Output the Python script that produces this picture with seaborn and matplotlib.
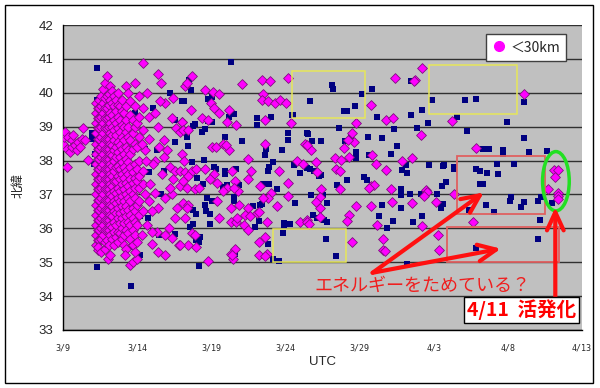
import pandas as pd
import seaborn as sns
import matplotlib.pyplot as plt
import matplotlib.dates as mdates
from matplotlib.patches import Rectangle, Ellipse
from matplotlib.lines import Line2D

start = pd.Timestamp('2011-03-09')
x_ticks = pd.date_range('2011-03-09', '2011-04-13', freq='5D')
y_ticks = list(range(33, 43))
legend_label = '＜30km'
note_text = 'エネルギーをためている？'
label_text = '4/11  活発化'

# (days after 3/9 00:00 UTC, latitude)  -- depth < 30 km
shallow_pts = [
    (0.02, 38.5), (0.05, 38.7), (0.14, 38.85), (0.25, 38.35), (0.25, 37.8), (0.36, 38.7),
    (0.47, 38.25), (0.59, 38.6), (0.6, 38.4), (0.7, 38.75), (0.81, 38.45), (0.92, 38.3),
    (1.04, 38.55), (1.15, 38.4), (1.26, 38.65), (1.37, 38.95), (1.49, 38.6), (1.71, 38.03),
    # main shock strip
    (2.2, 39.7), (2.2, 39.4), (2.2, 39.1), (2.2, 38.8), (2.2, 38.5), (2.2, 38.2), (2.2, 37.9),
    (2.2, 37.6), (2.2, 37.3), (2.2, 37.0), (2.2, 36.7), (2.2, 36.4), (2.2, 36.1), (2.2, 35.8),
    (2.2, 35.5),
    (2.33, 39.55), (2.33, 39.25), (2.33, 38.95), (2.33, 38.65), (2.33, 38.35), (2.33, 38.05),
    (2.33, 37.75), (2.33, 37.45), (2.33, 37.15), (2.33, 36.85), (2.33, 36.55), (2.33, 36.25),
    (2.33, 35.95), (2.33, 35.65), (2.33, 35.35),
    (2.45, 39.8), (2.45, 39.55), (2.45, 39.25), (2.45, 38.95), (2.45, 38.65), (2.45, 38.35),
    (2.45, 38.05), (2.45, 37.75), (2.45, 37.45), (2.45, 37.15), (2.45, 36.85), (2.45, 36.55),
    (2.45, 36.25), (2.45, 35.95), (2.45, 35.65), (2.39, 35.45),
    (2.58, 39.9), (2.58, 39.6), (2.58, 39.3), (2.58, 39.0), (2.58, 38.7), (2.58, 38.4),
    (2.58, 38.1), (2.58, 37.8), (2.58, 37.5), (2.58, 37.2), (2.58, 36.9), (2.58, 36.6),
    (2.58, 36.3), (2.58, 36.0), (2.58, 35.7), (2.58, 35.3),
    (2.7, 40.1), (2.7, 39.7), (2.7, 39.4), (2.7, 39.1), (2.7, 38.8), (2.7, 38.5), (2.7, 38.2),
    (2.7, 37.9), (2.7, 37.6), (2.7, 37.3), (2.7, 37.0), (2.7, 36.7), (2.7, 36.4), (2.7, 36.1),
    (2.7, 35.8), (2.84, 35.4),
    (2.83, 40.3), (2.83, 39.85), (2.83, 39.55), (2.83, 39.25), (2.83, 38.95), (2.83, 38.65),
    (2.83, 38.35), (2.83, 38.05), (2.83, 37.75), (2.83, 37.45), (2.83, 37.15), (2.83, 36.85),
    (2.83, 36.55), (2.83, 36.25), (2.83, 35.95), (2.83, 35.6),
    (2.95, 40.5), (2.95, 39.9), (2.95, 39.55), (2.95, 39.25), (2.95, 38.95), (2.95, 38.65),
    (2.95, 38.35), (2.95, 38.05), (2.95, 37.75), (2.95, 37.45), (2.95, 37.15), (2.95, 36.85),
    (2.95, 36.55), (2.95, 36.25), (2.95, 35.95), (2.95, 35.65), (3.06, 35.1), (3.18, 35.2),
    (3.08, 39.95), (3.08, 39.65), (3.08, 39.3), (3.08, 39.0), (3.08, 38.65), (3.08, 38.35),
    (3.08, 38.05), (3.08, 37.75), (3.08, 37.45), (3.08, 37.15), (3.08, 36.85), (3.08, 36.55),
    (3.08, 36.25), (3.08, 35.95), (3.08, 35.5),
    (3.2, 40.2), (3.2, 39.8), (3.2, 39.4), (3.2, 39.1), (3.2, 38.8), (3.2, 38.5), (3.2, 38.2),
    (3.2, 37.9), (3.2, 37.6), (3.2, 37.3), (3.2, 37.0), (3.2, 36.7), (3.2, 36.4), (3.2, 36.1),
    (3.2, 35.8),
    (3.33, 40.05), (3.33, 39.7), (3.33, 39.35), (3.33, 39.0), (3.33, 38.75), (3.33, 38.45),
    (3.33, 38.15), (3.33, 37.85), (3.33, 37.55), (3.33, 37.25), (3.33, 36.95), (3.33, 36.65),
    (3.33, 36.35), (3.33, 36.05), (3.33, 35.7),
    (3.45, 39.9), (3.45, 39.6), (3.45, 39.2), (3.45, 38.9), (3.45, 38.6), (3.45, 38.3),
    (3.45, 38.0), (3.45, 37.7), (3.45, 37.4), (3.45, 37.1), (3.45, 36.8), (3.45, 36.5),
    (3.45, 36.2), (3.45, 35.9), (3.45, 35.5),
    (3.58, 39.8), (3.58, 39.45), (3.58, 39.1), (3.58, 38.75), (3.58, 38.4), (3.58, 38.1),
    (3.58, 37.8), (3.58, 37.4), (3.58, 37.05), (3.58, 36.75), (3.58, 36.45), (3.58, 36.1),
    (3.58, 35.75),
    (3.7, 40.0), (3.7, 39.65), (3.7, 39.3), (3.7, 38.95), (3.7, 38.55), (3.7, 38.25),
    (3.7, 37.85), (3.7, 37.55), (3.7, 37.2), (3.7, 36.9), (3.7, 36.6), (3.7, 36.3),
    (3.7, 35.9), (3.7, 35.6),
    (3.83, 39.6), (3.83, 39.2), (3.83, 38.85), (3.83, 38.45), (3.83, 38.1), (3.83, 37.75),
    (3.83, 37.45), (3.83, 37.1), (3.83, 36.8), (3.83, 36.45), (3.83, 36.15), (3.83, 35.85),
    (3.95, 39.8), (3.95, 39.45), (3.95, 39.05), (3.95, 38.7), (3.95, 38.35), (3.95, 37.95),
    (3.95, 37.6), (3.95, 37.3), (3.95, 36.95), (3.95, 36.65), (3.95, 36.3), (3.95, 36.0),
    (3.95, 35.7),
    (4.1, 39.4), (4.1, 39.0), (4.1, 38.6), (4.1, 38.2), (4.1, 37.8), (4.1, 37.5),
    (4.1, 37.15), (4.1, 36.8), (4.1, 36.5), (4.1, 36.15), (4.1, 35.8), (4.1, 35.5),
    (4.25, 40.2), (4.25, 39.6), (4.25, 39.2), (4.25, 38.85), (4.25, 38.4), (4.25, 38.05),
    (4.25, 37.7), (4.25, 37.35), (4.25, 37.0), (4.25, 36.65), (4.25, 36.35), (4.25, 35.95),
    (4.25, 35.4), (4.19, 35.2), (4.53, 34.92), (4.75, 35.0), (4.98, 35.1),
    (4.4, 40.0), (4.4, 39.0), (4.4, 38.7), (4.4, 38.3), (4.4, 37.95), (4.4, 37.6),
    (4.4, 37.25), (4.4, 36.9), (4.4, 36.55), (4.4, 36.2), (4.4, 35.85),
    (4.55, 39.75), (4.55, 39.35), (4.55, 38.6), (4.55, 38.2), (4.55, 37.8), (4.55, 37.45),
    (4.55, 37.1), (4.55, 36.8), (4.55, 36.4), (4.55, 36.1), (4.55, 35.7),
    (4.7, 39.2), (4.7, 38.8), (4.7, 38.35), (4.7, 37.65), (4.7, 37.35), (4.7, 37.0),
    (4.7, 36.6), (4.7, 36.3), (4.7, 35.95), (4.7, 35.5),
    (4.85, 40.3), (4.85, 39.6), (4.85, 39.0), (4.85, 38.5), (4.85, 37.9), (4.85, 37.5),
    (4.85, 37.2), (4.85, 36.9), (4.85, 36.5), (4.85, 36.2), (4.85, 35.8), (4.85, 35.3),
    (5.0, 39.1), (5.0, 38.4), (5.0, 37.75), (5.0, 37.4), (5.0, 36.7), (5.0, 36.1), (5.0, 35.6),
    (5.15, 39.9), (5.15, 39.3), (5.15, 38.7), (5.15, 38.0), (5.15, 37.55), (5.15, 37.2),
    (5.15, 36.8), (5.15, 36.4),
    (5.4, 40.88), (5.4, 39.55), (5.4, 38.9), (5.4, 37.7), (5.4, 37.3), (5.4, 36.5),
    (5.65, 40.0), (6.4, 40.55), (6.6, 40.3),
    # 3/14 - 3/17
    (6.89, 39.7), (6.55, 39.75), (7.45, 39.85), (7.34, 39.25), (8.02, 39.15), (7.61, 38.95),
    (7.9, 38.85), (6.44, 39.0), (5.77, 38.65), (6.78, 38.6), (5.54, 38.3), (6.22, 38.0),
    (6.78, 38.1), (7.23, 37.8), (7.57, 37.7), (6.67, 37.6), (7.45, 37.45), (7.9, 37.25),
    (6.22, 37.05), (6.89, 36.9), (7.34, 37.0), (5.77, 36.8), (6.44, 36.6), (7.68, 36.6),
    (7.57, 36.3), (5.65, 36.1), (6.33, 35.9), (7.12, 36.0), (6.89, 35.8), (7.34, 35.72),
    (7.79, 35.5), (5.99, 35.55), (6.44, 35.3), (6.89, 35.2), (5.9, 37.3), (6.1, 37.9),
    (5.3, 38.5), (5.6, 38.0), (5.5, 37.0), (6.0, 36.5), (5.8, 39.3), (6.2, 39.4),
    (6.5, 38.4), (7.0, 38.3), (7.2, 37.2), (6.0, 35.9), (5.3, 35.8),
    # 3/17 - 3/26
    (8.7, 40.5), (8.25, 40.2), (8.35, 40.3), (9.6, 40.07), (10.1, 40.03), (10.5, 39.95),
    (10.0, 39.7), (10.15, 39.55), (8.65, 39.5), (9.35, 39.25), (9.75, 39.2), (10.5, 39.4),
    (11.05, 39.15), (11.2, 39.5), (11.7, 39.05), (12.1, 40.27), (13.4, 40.37), (13.95, 40.35),
    (15.2, 40.43), (13.5, 39.95), (13.4, 39.8), (13.85, 39.75), (14.3, 39.7), (14.65, 39.8),
    (15.05, 39.7), (13.65, 39.2), (15.4, 39.1), (8.0, 39.15), (8.1, 38.9), (8.45, 38.9),
    (10.05, 38.4), (10.3, 38.4), (10.8, 38.5), (11.2, 38.3), (11.0, 38.45), (13.6, 38.5),
    (16.3, 38.5), (8.0, 38.2), (8.15, 38.0), (12.5, 38.05), (15.8, 38.0), (16.2, 37.9),
    (7.9, 37.7), (8.25, 37.65), (8.7, 37.7), (9.0, 37.75), (8.45, 37.55), (8.1, 37.4),
    (8.35, 37.2), (8.9, 37.15), (9.15, 37.2), (9.6, 37.75), (10.15, 37.6), (9.9, 37.45),
    (11.4, 37.7), (12.7, 37.7), (14.6, 37.7), (10.4, 37.35), (11.05, 37.2), (10.8, 37.1),
    (11.6, 37.4), (11.8, 37.1), (11.5, 37.2), (12.5, 37.45), (13.3, 37.25), (15.15, 37.35),
    (14.0, 37.05), (13.85, 36.9), (13.5, 36.9), (14.4, 36.65), (15.2, 36.95), (8.1, 36.75),
    (8.45, 36.7), (8.35, 36.6), (10.4, 36.8), (11.3, 36.6), (11.9, 36.7), (12.5, 36.6),
    (12.3, 36.4), (12.6, 36.35), (13.1, 36.45), (13.25, 36.47), (13.75, 36.2), (8.2, 36.3),
    (10.5, 36.3), (11.3, 36.2), (11.7, 36.2), (11.75, 36.3), (12.2, 36.1), (12.5, 35.95),
    (15.95, 36.2), (16.45, 36.25), (8.7, 35.85), (8.9, 35.8), (8.45, 35.5), (9.0, 35.45),
    (13.6, 35.75), (13.2, 35.6), (11.6, 35.4), (11.3, 35.25), (11.45, 35.1), (11.4, 35.2),
    (13.25, 35.2), (13.75, 35.25), (13.65, 35.18), (9.75, 35.05), (7.9, 35.5),
    # 3/26 - 4/4
    (24.23, 40.72), (22.4, 40.43), (23.74, 40.37), (20.74, 39.63), (21.75, 39.2),
    (22.27, 39.25), (19.77, 39.12), (19.46, 38.8), (19.6, 38.55), (24.17, 38.75),
    (18.94, 38.38), (19.23, 38.62), (16.75, 38.32), (16.46, 38.45), (18.33, 38.08),
    (18.78, 38.03), (19.28, 38.1), (20.85, 38.15), (21.08, 37.9), (22.84, 38.0),
    (23.56, 38.08), (17.03, 37.95), (17.14, 37.65), (18.42, 37.75), (18.65, 37.68),
    (21.76, 37.72), (18.7, 37.15), (17.43, 37.15), (20.74, 37.25), (20.97, 37.28),
    (20.63, 37.2), (22.1, 37.17), (24.46, 37.12), (24.57, 37.08), (24.35, 36.95),
    (17.36, 36.92), (17.07, 36.78), (17.36, 36.6), (19.77, 36.65), (20.79, 36.65),
    (22.16, 36.78), (23.51, 36.75), (25.13, 36.78), (19.28, 36.38), (19.17, 36.23),
    (17.36, 36.32), (16.46, 36.2), (16.62, 36.12), (21.19, 36.1), (24.23, 36.07),
    (19.5, 35.6), (21.6, 35.7), (21.6, 35.37), (21.7, 35.32), (25.3, 35.8), (25.35, 35.35),
    (23.7, 40.34),
    # 4/4 - 4/12
    (31.1, 39.97), (26.26, 39.17), (27.88, 38.38), (26.37, 37.02), (27.65, 36.2),
    (33.13, 37.72), (33.4, 37.72), (33.2, 37.52), (32.72, 37.15), (33.4, 37.05),
    (33.35, 36.95), (33.4, 36.87),
]

# all other events (drawn underneath)
deep_pts = [
    (2.27, 40.72), (2.88, 40.22), (2.27, 39.8), (2.95, 39.7), (7.23, 40.0), (8.0, 39.75),
    (6.04, 39.55), (3.4, 39.25), (1.94, 38.8), (1.98, 38.65), (2.27, 38.65), (3.06, 38.35),
    (5.54, 38.35), (6.33, 38.32), (7.57, 38.55), (7.57, 39.2), (5.77, 37.65), (6.78, 37.7),
    (4.98, 37.65), (3.1, 37.3), (5.09, 37.22), (6.62, 37.0), (4.64, 36.6), (5.2, 36.35),
    (5.72, 36.3), (7.57, 35.82), (6.49, 35.8), (4.64, 35.45), (5.2, 35.22), (2.27, 34.87),
    (4.6, 34.3), (2.84, 36.8), (2.6, 36.0), (2.1, 37.9), (2.15, 38.2), (8.47, 40.37),
    (11.17, 39.29), (4.86, 39.4), (2.3, 38.3), (2.5, 37.2), (3.6, 36.2), (4.1, 37.8),
    (3.9, 38.9), (4.4, 38.6), (4.0, 36.9), (4.8, 36.0), (3.3, 35.6),
    (11.3, 40.92), (8.65, 40.08), (8.13, 39.75), (9.8, 39.82), (9.9, 39.72), (10.05, 39.88),
    (11.5, 39.38), (13.1, 39.25), (14.0, 39.28), (15.45, 39.35), (15.5, 39.33), (9.8, 39.17),
    (10.05, 39.15), (8.9, 39.08), (8.8, 39.02), (13.1, 39.05), (9.35, 38.85), (9.6, 38.92),
    (8.35, 38.7), (10.95, 38.7), (12.07, 38.58), (15.2, 38.8), (15.15, 38.6), (16.5, 38.78),
    (13.7, 38.35), (13.65, 38.15), (8.4, 38.42), (14.77, 38.32), (9.48, 38.02), (8.7, 37.95),
    (10.15, 37.82), (10.33, 37.75), (10.94, 37.7), (10.94, 37.6), (11.68, 37.75),
    (14.16, 37.95), (13.87, 37.82), (13.8, 37.7), (15.56, 37.87), (15.96, 37.62),
    (9.03, 37.5), (9.43, 37.32), (11.05, 37.27), (10.78, 37.22), (11.84, 37.28),
    (13.5, 37.32), (13.87, 37.32), (14.43, 37.15), (9.7, 36.9), (10.04, 36.82),
    (9.6, 36.68), (9.66, 36.5), (11.5, 36.92), (11.5, 36.82), (12.8, 36.67), (13.3, 36.68),
    (13.45, 36.72), (15.67, 36.75), (8.76, 36.55), (9.0, 36.42), (9.93, 36.42),
    (9.88, 36.12), (13.2, 36.22), (12.97, 36.05), (14.88, 36.15), (14.93, 36.08),
    (15.33, 36.12), (14.84, 35.87), (8.8, 36.12), (8.57, 36.05), (9.25, 35.75), (9.0, 35.65),
    (9.14, 35.6), (13.8, 35.55), (14.16, 35.1), (14.54, 35.05), (9.2, 34.88), (11.6, 35.25),
    (23.5, 40.35), (18.15, 40.22), (18.22, 40.1), (20.85, 40.12), (20.18, 39.95),
    (16.69, 39.75), (24.86, 39.8), (18.94, 39.45), (19.17, 39.45), (19.68, 39.62),
    (24.23, 39.48), (21.15, 39.3), (23.5, 39.35), (24.64, 39.12), (18.6, 38.95),
    (23.85, 38.95), (22.32, 38.92), (16.46, 38.8), (16.8, 38.57), (17.43, 38.58),
    (19.05, 38.57), (19.39, 38.7), (20.58, 38.7), (21.53, 38.67), (22.54, 38.42),
    (19.77, 38.25), (19.77, 38.07), (20.63, 38.15), (22.1, 38.2), (23.11, 37.88),
    (22.88, 37.72), (23.22, 37.62), (24.68, 37.87), (25.6, 37.85), (16.46, 37.78),
    (16.69, 37.75), (16.91, 37.68), (17.25, 37.55), (17.43, 37.58), (18.49, 37.27),
    (19.17, 37.43), (20.29, 37.52), (20.47, 37.42), (16.75, 36.98), (17.54, 36.98),
    (17.81, 36.75), (22.77, 37.17), (22.77, 36.97), (23.38, 37.02), (24.12, 37.0),
    (25.25, 37.02), (21.49, 36.68), (22.77, 36.6), (25.6, 36.72), (25.47, 36.6),
    (16.85, 36.38), (17.14, 36.3), (17.59, 36.25), (17.77, 36.2), (21.3, 36.35),
    (22.25, 36.22), (24.23, 36.35), (23.6, 36.18), (21.87, 36.02), (17.75, 35.68),
    (18.44, 35.18), (23.22, 34.95),
    (27.09, 39.78), (27.83, 39.83), (31.1, 39.72), (26.6, 39.28), (29.93, 39.15),
    (27.23, 38.88), (31.1, 38.67), (28.29, 38.35), (28.74, 38.33), (29.64, 38.3),
    (29.64, 38.2), (31.44, 38.25), (32.63, 38.28), (25.7, 37.88), (26.37, 37.82),
    (26.4, 37.75), (27.83, 37.75), (28.13, 37.68), (28.62, 37.62), (29.34, 37.6),
    (29.3, 37.9), (30.43, 37.9), (25.8, 37.38), (25.58, 37.25), (28.13, 37.32),
    (28.29, 37.32), (25.58, 36.72), (27.38, 36.55), (28.51, 36.68), (29.07, 36.48),
    (30.24, 36.92), (30.15, 36.8), (31.06, 36.78), (30.92, 36.63), (32.05, 36.8),
    (32.23, 36.92), (32.95, 36.75), (32.18, 36.25), (32.0, 35.7), (27.83, 35.42),
]

# hand-drawn marks: (day, lat bottom-left, width in days, height in deg)
yellow_boxes = [(15.47, 39.25, 4.87, 1.39), (24.66, 39.37, 5.94, 1.45), (14.14, 35.0, 4.96, 0.98)]
red_boxes = [(26.6, 36.41, 5.9, 1.72), (25.9, 35.0, 7.57, 1.03)]
green_ring = (33.24, 37.39, 1.8, 1.75)
arrows = [((20.88, 34.69), (28.38, 37.06)), ((20.88, 34.69), (29.53, 35.4)),
          ((33.2, 33.97), (33.2, 36.62))]


def to_frame(pts):
    df = pd.DataFrame(pts, columns=['day', 'lat'])
    df['date'] = start + pd.to_timedelta(df['day'], unit='D')
    return df


def xnum(day):
    return mdates.date2num(start) + day


sns.set_style('white')
plt.rcParams['font.family'] = ['Noto Sans CJK JP', 'DejaVu Sans']

deep = to_frame(deep_pts)
shallow = to_frame(shallow_pts)

fig = plt.figure(figsize=(6, 3.88), dpi=100)
ax = fig.add_axes([0.105, 0.1495, 0.865, 0.786])
ax.set_facecolor('#C0C0C0')

sns.scatterplot(data=deep, x='date', y='lat', marker='s', s=20, color='#000080',
                edgecolor='#000080', linewidth=0, legend=False, ax=ax, zorder=3)
sns.scatterplot(data=shallow, x='date', y='lat', marker='D', s=25, color='#FF00FF',
                edgecolor='#80107F', linewidth=0.6, legend=False, ax=ax, zorder=4)

ax.set_xlim(xnum(0), xnum(35))
ax.set_ylim(33, 42)
ax.set_xticks(x_ticks)
ax.set_xticklabels([f'{d.month}/{d.day}' for d in x_ticks], family='DejaVu Sans Mono', fontsize=6)
ax.set_yticks(y_ticks)
ax.set_yticklabels([str(v) for v in y_ticks], family='Liberation Sans', fontsize=9.5)
ax.tick_params(axis='x', direction='in', length=3, pad=10, color='black')
ax.tick_params(axis='y', direction='out', length=4, pad=3, color='black')
ax.yaxis.grid(True, color='#303030', lw=1)
ax.set_axisbelow(True)
ax.set_xlabel('')
ax.set_ylabel('')
for side in ['top', 'right']:
    ax.spines[side].set_visible(False)
for side in ['left', 'bottom']:
    ax.spines[side].set_color('black')
    ax.spines[side].set_linewidth(1)

for d, y, w, h in yellow_boxes:
    ax.add_patch(Rectangle((xnum(d), y), w, h, fill=False, ec='#E6E65A', lw=1.1, zorder=5))
for d, y, w, h in red_boxes:
    ax.add_patch(Rectangle((xnum(d), y), w, h, fill=False, ec='#E06060', lw=1.3, zorder=5))
d, y, w, h = green_ring
ax.add_patch(Ellipse((xnum(d), y), w, h, fill=False, ec='#22E022', lw=2.5, zorder=6))

for (d0, y0), (d1, y1) in arrows:
    ax.annotate('', xy=(xnum(d1), y1), xytext=(xnum(d0), y0),
                arrowprops=dict(arrowstyle='->,head_length=1.3,head_width=0.6',
                                color='#FF1010', lw=3, shrinkA=0, shrinkB=0), zorder=7)

ax.text(xnum(24.26), 34.3, note_text, color='#F01E1E', fontsize=13,
        ha='center', va='center', zorder=8)
ax.text(xnum(30.95), 33.59, label_text, color='#FF0000', fontsize=14, fontweight='bold',
        ha='center', va='center', zorder=8,
        bbox=dict(boxstyle='square,pad=0.15', fc='white', ec='black', lw=1))

handle = Line2D([], [], marker='o', ls='', markerfacecolor='#FF00FF',
                markeredgecolor='#FF00FF', markersize=7)
leg = ax.legend([handle], [legend_label], loc='upper right', bbox_to_anchor=(0.983, 0.993),
                frameon=True, fancybox=False, edgecolor='#404040', framealpha=1,
                handlelength=1, handletextpad=0.3, borderpad=0.45, fontsize=10)
leg.get_frame().set_linewidth(1)

fig.text(18 / 600, 1 - 185 / 388, '北緯', rotation=90, ha='center', va='center', fontsize=9)
fig.text(322 / 600, 1 - 362 / 388, 'UTC', family='Liberation Sans', ha='center',
         va='center', fontsize=9.5)
fig.patches.append(Rectangle((5 / 600, 5 / 388), 588 / 600, 378 / 388, fill=False,
                             ec='black', lw=1, transform=fig.transFigure))

fig.savefig('out.png', dpi=100)
